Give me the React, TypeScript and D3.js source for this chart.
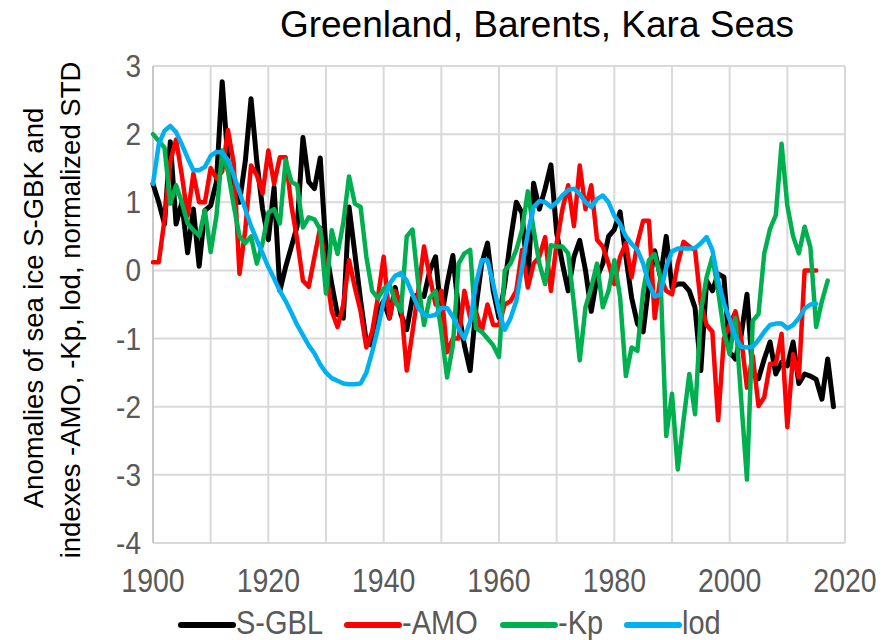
import React from "react";
import * as d3 from "d3";

// ---- data ----
const sgblStart = 1900;
const sgbl = [
  1.27, 1.0, 0.68, 1.89, 0.68, 1.0, 0.26, 0.9, 0.06, 0.88,
  0.95, 1.3, 2.77, 1.6, 1.3, 1.0, 1.6, 2.52, 1.6, 0.9,
  0.45, 1.22, -0.3, 0.05, 0.35, 0.65, 1.95, 1.3, 1.2, 1.65,
  0.3, -0.2, -0.65, -0.7, 0.93, 0.25, -0.44, -1.05, -1.1, -0.6,
  -0.45, -0.7, -0.25, -0.65, -0.87, -0.4, -0.35, -0.38, 0.0, 0.2,
  -0.7, -0.2, 0.22, -0.6, -1.1, -1.47, -0.55, 0.1, 0.4, -0.3,
  -0.7, -0.2, 0.45, 1.0, 0.84, -0.15, 1.28, 0.9, 1.2, 1.55,
  0.55, 0.1, -0.3, 0.2, 0.44, 0.0, -0.6, -0.1, 0.1, 0.5,
  0.6, 0.86, 0.2, -0.4, -0.78, -0.9, -0.2, 0.29, -0.1, 0.5,
  -0.25, -0.2, -0.2, -0.3, -0.55, -1.47, -0.15, -0.3, -0.05, -0.1,
  -1.2, -1.3, -0.95, -0.35, -1.52, -1.59, -1.3, -1.05, -1.52, -1.35,
  -1.4, -1.05, -1.66, -1.52, -1.55, -1.6, -1.89, -1.3, -2.0,
];

const amoStart = 1900;
const amo = [
  0.12, 0.12, 0.75, 1.6, 1.92, 1.4, 0.8, 1.42, 1.0, 1.0,
  1.5, 1.35, 1.45, 2.06, 1.57, -0.05, 0.6, 1.54, 1.4, 1.13,
  1.76, 1.27, 1.66, 1.66, 0.95, 0.45, -0.15, -0.24, 0.2, 0.63,
  0.0, -0.6, -0.83, -0.5, 0.15, -0.25, -0.6, -1.13, -0.9, -0.4,
  0.2, -0.7, -0.3, -0.5, -1.47, -0.9, -0.3, 0.35, -0.1, -0.5,
  -0.3, -1.2, -1.0, -1.0, -0.3, -0.7, -0.6, -0.9, -0.5, -0.8,
  -0.8, -0.5, -0.45, -0.3, 0.3, -0.25, 0.1, 0.2, 0.49, -0.3,
  0.4, 0.9, 1.25, 0.65, 1.54, 0.9, 1.25, 0.45, 0.35, 0.1,
  -0.2, 0.2, 0.4, -0.1, 0.4, 0.73, 0.73, -0.7, -0.1, -0.3,
  -0.35, 0.1, 0.42, 0.35, 0.3, -0.5, -0.8, -0.9, -2.2, -1.0,
  -0.8, -0.6, -1.0, -1.72, -1.25, -1.99, -1.86, -1.37, -1.37, -0.93,
  -2.3, -1.23, -1.57, 0.0, 0.0, 0.0,
];

const kpStart = 1900;
const kp = [
  2.0, 1.9, 1.8, 0.98, 1.25, 1.0, 0.69, 0.59, 0.51, 0.88,
  0.27, 0.8, 1.76, 1.45, 0.95, 0.5, 0.4, 0.5, 0.1, 0.4,
  0.85, 0.9, 0.69, 1.62, 1.3, 1.25, 0.63, 0.78, 0.75, 0.6,
  -0.34, 0.59, 0.24, 0.7, 1.38, 0.98, 0.93, 0.2, -0.3, -0.41,
  -0.27, -0.2, -0.45, -0.6, 0.5, 0.6, -0.2, -0.8, -0.4, -0.3,
  -0.9, -1.57, -1.1, 0.1, 0.25, 0.3, -0.85, -0.9, -1.0, -1.1,
  -1.27, 0.0, 0.1, 0.3, 0.6, 1.16, 0.6, 0.1, -0.2, 0.37,
  0.35, 0.35, 0.25, -0.5, -1.32, -0.54, -0.25, 0.1, -0.54, -0.3,
  0.15, -0.4, -1.55, -1.13, -1.18, -0.3, 0.15, 0.24, -0.1, -2.43,
  -1.81, -2.92, -2.2, -1.52, -2.11, -0.6, -0.1, 0.2, -0.3, -0.9,
  -1.23, -0.7, -1.9, -3.07, -0.74, -0.64, 0.25, 0.61, 0.81, 1.86,
  0.95, 0.5, 0.25, 0.64, 0.34, -0.83, -0.45, -0.15,
];

const lodStart = 1900;
const lod = [
  1.27, 1.85, 2.05, 2.12, 2.03, 1.85, 1.65, 1.47, 1.47, 1.52,
  1.68, 1.74, 1.73, 1.62, 1.4, 1.15, 0.9, 0.65, 0.45, 0.25,
  0.05, -0.12, -0.3, -0.45, -0.62, -0.8, -0.95, -1.1, -1.22, -1.38,
  -1.5, -1.58, -1.62, -1.66, -1.67, -1.67, -1.66, -1.5, -1.2, -0.85,
  -0.45, -0.2, -0.08, -0.04, -0.15, -0.35, -0.55, -0.65, -0.67, -0.65,
  -0.55, -0.55, -0.68, -0.85, -1.0, -0.75, -0.2, 0.15, 0.15, -0.2,
  -0.6, -0.87, -0.7, -0.45, 0.05, 0.55, 0.93, 1.02, 1.0, 0.93,
  1.0, 1.1, 1.18, 1.2, 1.12, 1.0, 0.93, 1.05, 1.1, 1.0,
  0.8, 0.68, 0.5, 0.39, 0.3, 0.1, -0.2, -0.38, -0.35, 0.05,
  0.28, 0.32, 0.32, 0.32, 0.33, 0.4, 0.49, 0.3, -0.15, -0.48,
  -0.72, -0.98, -1.12, -1.13, -1.12, -1.02, -0.9, -0.8, -0.78, -0.78,
  -0.85, -0.8, -0.7, -0.56, -0.5, -0.49,
];

const yTicks = [3, 2, 1, 0, -1, -2, -3, -4];
const xTickLabels = [1900, 1920, 1940, 1960, 1980, 2000, 2020];
const xGridYears = [1900, 1910, 1920, 1930, 1940, 1950, 1960, 1970, 1980, 1990, 2000, 2010, 2020];

const seriesNames = ["S-GBL", "-AMO", "-Kp", "lod"];
const seriesColors = ["#000000", "#ff0000", "#00b050", "#00b0f0"];

const title = "Greenland, Barents, Kara Seas";
const yTitle1 = "Anomalies of sea ice S-GBK and";
const yTitle2 = "indexes -AMO, -Kp, lod, normalized STD";

export default function App() {
  const W = 881;
  const H = 640;
  const x = d3.scaleLinear().domain([1900, 2020]).range([153, 845]);
  const y = d3.scaleLinear().domain([-4, 3]).range([543, 66]);
  const font = "'Liberation Sans', Arial, sans-serif";
  const sy = 1.15; // vertical stretch of the reference's text

  const series = [
    { start: sgblStart, values: sgbl },
    { start: amoStart, values: amo },
    { start: kpStart, values: kp },
    { start: lodStart, values: lod },
  ];

  const line = d3
    .line<[number, number]>()
    .x((d) => x(d[0]))
    .y((d) => y(d[1]));

  // legend layout (sample line start positions)
  const legendX = [181, 347, 503, 627];
  const sampleW = 52;

  return (
    <svg
      width={W}
      height={H}
      style={{ position: "absolute", left: 0, top: 0, background: "#fff" }}
      fontFamily={font}
    >
      <rect x={0} y={0} width={W} height={H} fill="#fff" />
      {/* gridlines */}
      {yTicks.map((t) => (
        <line key={"h" + t} x1={x(1900)} x2={x(2020)} y1={y(t)} y2={y(t)} stroke="#d9d9d9" strokeWidth={2} />
      ))}
      {xGridYears.map((yr) => (
        <line key={"v" + yr} x1={x(yr)} x2={x(yr)} y1={y(3)} y2={y(-4)} stroke="#d9d9d9" strokeWidth={2} />
      ))}
      <line x1={x(1900)} x2={x(1900)} y1={y(3)} y2={y(-4)} stroke="#c8c8c8" strokeWidth={2} />

      {/* series */}
      {series.map((s, i) => {
        const pts: [number, number][] = s.values.map((v, j) => [s.start + j, v]);
        return (
          <path
            key={i}
            d={line(pts) || ""}
            fill="none"
            stroke={seriesColors[i]}
            strokeWidth={i === 0 ? 5 : 4.5}
            strokeLinejoin="round"
            strokeLinecap="round"
          />
        );
      })}

      {/* y tick labels */}
      {yTicks.map((t) => (
        <text
          key={"yl" + t}
          transform={`translate(141,${y(t) + 11}) scale(1,${sy})`}
          textAnchor="end"
          fontSize={28}
          fill="#595959"
        >
          {t}
        </text>
      ))}
      {/* x tick labels */}
      {xTickLabels.map((t) => (
        <text
          key={"xl" + t}
          transform={`translate(${x(t)},592) scale(1,${sy})`}
          textAnchor="middle"
          fontSize={28.5}
          fill="#595959"
        >
          {t}
        </text>
      ))}

      {/* title */}
      <text x={537} y={37} textAnchor="middle" fontSize={37} fill="#000">
        {title}
      </text>

      {/* y axis title */}
      <text transform="translate(43,308) rotate(-90)" textAnchor="middle" fontSize={27.5} fill="#000">
        {yTitle1}
      </text>
      <text transform="translate(80,310) rotate(-90)" textAnchor="middle" fontSize={27.5} fill="#000">
        {yTitle2}
      </text>

      {/* legend */}
      {seriesNames.map((n, i) => (
        <g key={"lg" + n}>
          <line
            x1={legendX[i]}
            x2={legendX[i] + sampleW}
            y1={625}
            y2={625}
            stroke={seriesColors[i]}
            strokeWidth={6}
            strokeLinecap="round"
          />
          <text
            transform={`translate(${legendX[i] + sampleW + 3},634) scale(1,${sy})`}
            fontSize={29}
            fill="#595959"
          >
            {n}
          </text>
        </g>
      ))}
    </svg>
  );
}
